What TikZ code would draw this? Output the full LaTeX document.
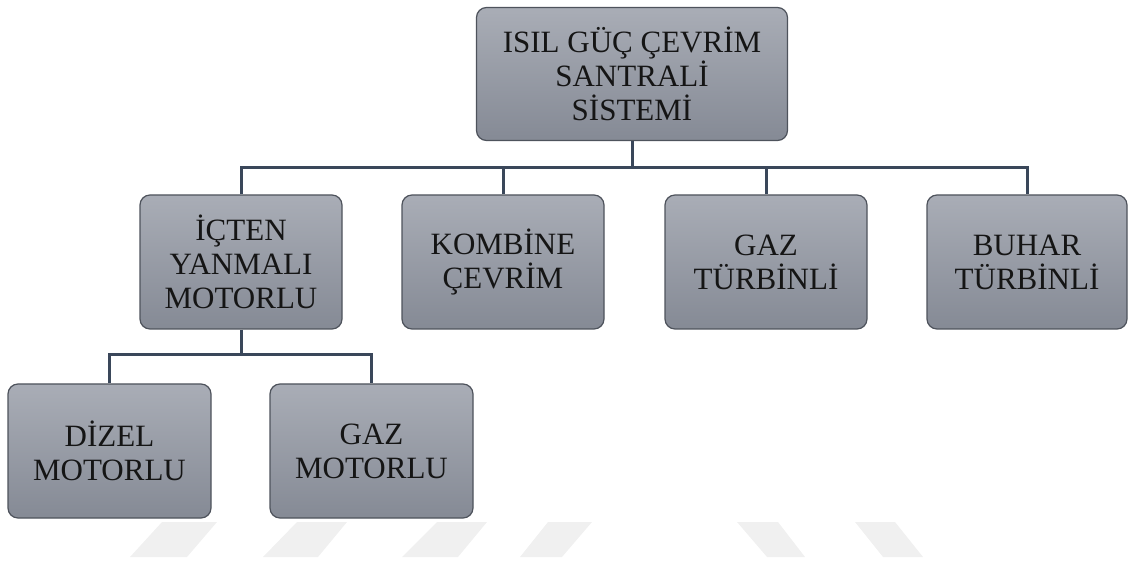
\documentclass[tikz,border=0pt]{standalone}
\usepackage{fontspec}
\setmainfont{Liberation Serif}
\usetikzlibrary{shadings}
\definecolor{boxtop}{HTML}{A9ADB6}
\definecolor{boxbot}{HTML}{858A95}
\definecolor{boxedge}{HTML}{4E535C}
\definecolor{conncol}{HTML}{3A475A}
\definecolor{wm}{HTML}{F0F0F0}
\definecolor{txt}{HTML}{151515}
\begin{document}
\begin{tikzpicture}[x=1pt,y=-1pt,
  orgbox/.style={rectangle,rounded corners=10pt,draw=boxedge,line width=1.2pt,
    top color=boxtop,bottom color=boxbot,align=center,text=txt,inner sep=0pt,
    font=\fontsize{31}{34}\selectfont},
  conn/.style={draw=conncol,line width=3pt},
  wmark/.style={fill=wm,draw=none}]
\useasboundingbox (0,0) rectangle (1128,561);
% watermark
\fill[wmark] (130,557) -- (187,557) -- (217,522) -- (162,522) -- cycle;
\fill[wmark] (263,557) -- (318,557) -- (347,522) -- (297,522) -- cycle;
\fill[wmark] (402,557) -- (458,557) -- (487,522) -- (437,522) -- cycle;
\fill[wmark] (520,557) -- (562,557) -- (592,522) -- (548,522) -- cycle;
\fill[wmark] (767,557) -- (805,557) -- (778,522) -- (737,522) -- cycle;
\fill[wmark] (883,557) -- (923,557) -- (895,522) -- (855,522) -- cycle;
% nodes
\node[orgbox,minimum width=311pt,minimum height=133pt] (top) at (632,74) {ISIL GÜÇ ÇEVRİM\\SANTRALİ\\SİSTEMİ};
\node[orgbox,minimum width=202pt,minimum height=134pt] (ic) at (241,262) {İÇTEN\\YANMALI\\MOTORLU};
\node[orgbox,minimum width=202pt,minimum height=134pt] (kc) at (503,262) {KOMBİNE\\ÇEVRİM};
\node[orgbox,minimum width=202pt,minimum height=134pt] (gt) at (766,262) {GAZ\\TÜRBİNLİ};
\node[orgbox,minimum width=200pt,minimum height=134pt] (bt) at (1027,262) {BUHAR\\TÜRBİNLİ};
\node[orgbox,minimum width=203pt,minimum height=134pt] (dm) at (109.5,451) {DİZEL\\MOTORLU};
\node[orgbox,minimum width=203pt,minimum height=134pt] (gm) at (371.5,451) {GAZ\\MOTORLU};
% connectors
\coordinate (bus1) at (632,168);
\coordinate (bus2) at (241,355);
\draw[conn] (top.south) -- (bus1);
\draw[conn] (ic.north) -- (ic.north |- bus1) -- (bt.north |- bus1) -- (bt.north);
\draw[conn] (kc.north) -- (kc.north |- bus1);
\draw[conn] (gt.north) -- (gt.north |- bus1);
\draw[conn] (ic.south) -- (bus2);
\draw[conn] (dm.north) -- (dm.north |- bus2) -- (gm.north |- bus2) -- (gm.north);
\end{tikzpicture}
\end{document}
